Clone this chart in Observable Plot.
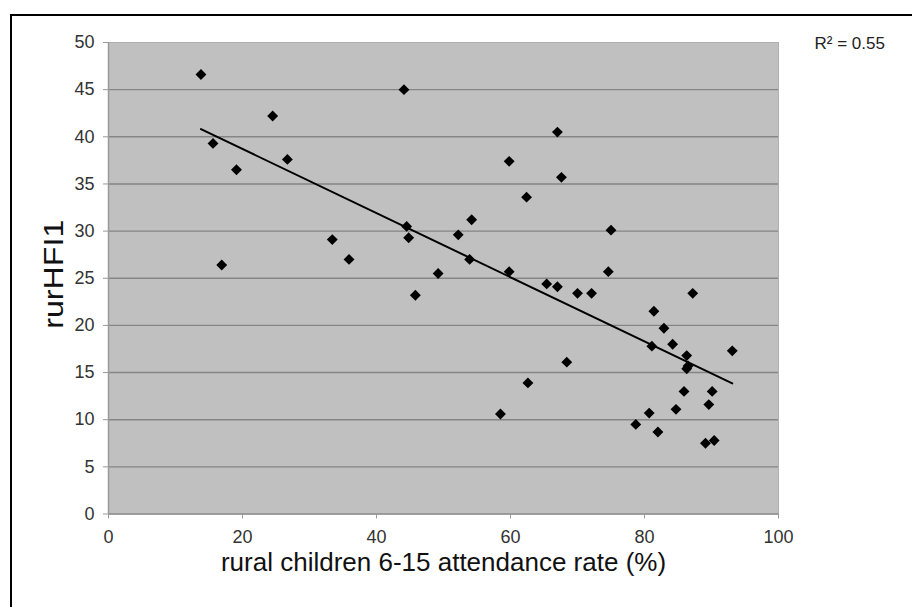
<!DOCTYPE html>
<html>
<head>
<meta charset="utf-8">
<script src="https://cdn.jsdelivr.net/npm/d3@7"></script>
<script src="https://cdn.jsdelivr.net/npm/@observablehq/plot@0.6"></script>
<style>
  html, body { margin: 0; padding: 0; background: #fff; overflow: hidden; }
  #wrap { position: relative; width: 912px; height: 607px; }
  #border { position: absolute; left: 10px; top: 14px; width: 1000px; height: 700px;
            border-top: 2px solid #000; border-left: 2px solid #000; pointer-events: none; }
</style>
</head>
<body>
<div id="wrap"><div id="border"></div></div>
<script>
// rural children 6-15 attendance rate (%)
const attendance = [13.8, 15.6, 16.9, 19.1, 24.5, 26.7, 33.4, 35.9, 44.1, 44.5, 44.8, 45.8,
  49.2, 52.2, 54.2, 53.9, 58.5, 59.8, 59.8, 62.4, 62.6, 65.4, 67.0, 67.0, 67.6, 68.4,
  70.0, 72.1, 74.6, 75.0, 78.7, 80.7, 81.1, 81.4, 82.0, 82.9, 84.2, 84.7, 85.9, 86.3,
  86.5, 86.3, 87.2, 89.1, 89.6, 90.1, 90.4, 93.1];
// rurHFI1
const hfi = [46.6, 39.3, 26.4, 36.5, 42.2, 37.6, 29.1, 27.0, 45.0, 30.5, 29.3, 23.2,
  25.5, 29.6, 31.2, 27.0, 10.6, 37.4, 25.7, 33.6, 13.9, 24.4, 40.5, 24.1, 35.7, 16.1,
  23.4, 23.4, 25.7, 30.1, 9.5, 10.7, 17.8, 21.5, 8.7, 19.7, 18.0, 11.1, 13.0, 16.8,
  15.7, 15.4, 23.4, 7.5, 11.6, 13.0, 7.8, 17.3];
const xTicks = [0, 20, 40, 60, 80, 100];
const yTicks = [0, 5, 10, 15, 20, 25, 30, 35, 40, 45, 50];
const xLabel = "rural children 6-15 attendance rate (%)";
const yLabel = "rurHFI1";
const r2Label = "R\u00B2 = 0.55";

const data = attendance.map((a, i) => ({x: a, y: hfi[i]}));

const chart = Plot.plot({
  width: 912,
  height: 607,
  marginLeft: 108,
  marginRight: 134,
  marginTop: 42,
  marginBottom: 93.5,
  style: {fontFamily: "'Liberation Sans', Arial, sans-serif", background: "transparent", color: "#222"},
  x: {domain: [0, 100], axis: null},
  y: {domain: [0, 50], axis: null},
  marks: [
    Plot.frame({fill: "#c0c0c0", stroke: "#b0b0b0"}),
    Plot.ruleY(yTicks.filter(d => d > 0 && d < 50), {stroke: "#858585", strokeWidth: 1.4}),
    Plot.ruleY([0], {stroke: "#8c8c8c", strokeWidth: 1.5}),
    Plot.ruleX([0], {stroke: "#9a9a9a", strokeWidth: 1.5}),
    Plot.axisY(yTicks, {tickSize: 5, tickPadding: 9, stroke: "#999", fill: "#333", fontSize: 18, label: null, tickFormat: d => String(d)}),
    Plot.axisX(xTicks, {tickSize: 5, tickPadding: 11, stroke: "#999", fill: "#333", fontSize: 18, label: null, tickFormat: d => String(d)}),
    Plot.linearRegressionY(data, {x: "x", y: "y", stroke: "#000", strokeWidth: 2, ci: 0}),
    Plot.dot(data, {x: "x", y: "y", symbol: "diamond2", r: 4.9, fill: "#000", stroke: "none"}),
    Plot.text([xLabel], {frameAnchor: "bottom", textAnchor: "middle", lineAnchor: "middle", dy: 49, fontSize: 26, fill: "#111"}),
    Plot.text([yLabel], {frameAnchor: "left", textAnchor: "middle", lineAnchor: "middle", rotate: -90, dx: -54, dy: -4, fontSize: 28, fill: "#111"}),
    Plot.text([r2Label], {frameAnchor: "top-right", textAnchor: "start", lineAnchor: "middle", dx: 36, dy: 1, fontSize: 17, fill: "#222"})
  ]
});
// stretch the rotated y label along its length, as in the reference
chart.querySelectorAll("text").forEach(t => {
  if (t.textContent === yLabel) {
    const tr = t.getAttribute("transform") || "";
    t.setAttribute("transform", tr + " scale(1.15,1)");
  }
});
chart.style.position = "absolute";
chart.style.left = "0";
chart.style.top = "0";
document.getElementById("wrap").prepend(chart);
</script>
</body>
</html>
